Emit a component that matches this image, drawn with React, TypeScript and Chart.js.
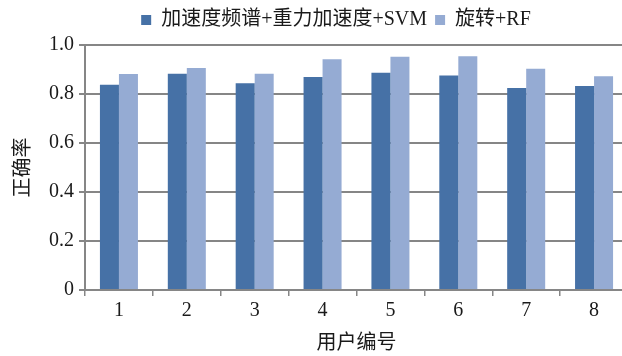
import React, { useEffect, useRef } from 'react';
import { Chart, registerables } from 'chart.js';

Chart.register(...registerables);

const categories = ['1', '2', '3', '4', '5', '6', '7', '8'];
const seriesNames = ['加速度频谱+重力加速度+SVM', '旋转+RF'];
const svmValues = [0.838, 0.883, 0.844, 0.869, 0.887, 0.876, 0.824, 0.833];
const rfValues = [0.882, 0.906, 0.883, 0.942, 0.952, 0.954, 0.903, 0.872];
const yTickLabels = ['0', '0.2', '0.4', '0.6', '0.8', '1.0'];
const xTitle = '用户编号';
const yTitle = '正确率';

const FONT = '"Liberation Serif", "Noto Sans CJK SC", serif';
const GRID = '#868686';
const LEGEND_SHIFT_X = 22;
const LEGEND_SHIFT_Y = -5;

const legendShift = {
  id: 'legendShift',
  afterLayout(chart: any) {
    const l = chart.legend;
    if (l) {
      l.left += LEGEND_SHIFT_X;
      l.right += LEGEND_SHIFT_X;
      l.top += LEGEND_SHIFT_Y;
      l.bottom += LEGEND_SHIFT_Y;
    }
  },
};

export default function App() {
  const ref = useRef<HTMLCanvasElement | null>(null);

  useEffect(() => {
    if (!ref.current) return;
    const chart = new Chart(ref.current, {
      type: 'bar',
      data: {
        labels: categories,
        datasets: [
          {
            label: seriesNames[0],
            data: svmValues,
            backgroundColor: '#4671a6',
            borderWidth: 0,
            categoryPercentage: 0.56,
            barPercentage: 1,
          },
          {
            label: seriesNames[1],
            data: rfValues,
            backgroundColor: '#95abd3',
            borderWidth: 0,
            categoryPercentage: 0.56,
            barPercentage: 1,
          },
        ],
      },
      options: {
        responsive: false,
        animation: false,
        layout: { padding: { left: 0, right: 12, top: 7, bottom: 0 } },
        font: { family: FONT, size: 20 },
        color: '#1a1a1a',
        plugins: {
          tooltip: { enabled: false },
          legend: {
            position: 'top',
            align: 'center',
            labels: {
              boxWidth: 10,
              boxHeight: 10,
              padding: 8,
              color: '#1a1a1a',
              font: { family: FONT, size: 20 },
            },
          },
        },
        scales: {
          x: {
            offset: true,
            grid: {
              display: true,
              offset: true,
              drawOnChartArea: false,
              drawTicks: true,
              tickLength: 6,
              color: GRID,
              lineWidth: 1.5,
            },
            border: { display: true, color: GRID, width: 2 },
            ticks: {
              color: '#1a1a1a',
              padding: 3,
              maxRotation: 0,
              font: { family: FONT, size: 20 },
            },
            title: {
              display: true,
              text: xTitle,
              color: '#1a1a1a',
              font: { family: FONT, size: 20 },
              padding: { top: 6, bottom: 0 },
            },
          },
          y: {
            min: 0,
            max: 1,
            afterFit(scale: any) {
              scale.width = 85;
            },
            grid: {
              color: GRID,
              lineWidth: 2,
              drawTicks: true,
              tickLength: 6,
            },
            border: { display: true, color: GRID, width: 2 },
            ticks: {
              stepSize: 0.1,
              padding: 5,
              color: '#1a1a1a',
              font: { family: FONT, size: 20 },
              callback: (v: any) => {
                const idx = Math.round(Number(v) * 10);
                return idx % 2 === 0 ? yTickLabels[idx / 2] : '';
              },
            },
            title: {
              display: true,
              text: yTitle,
              color: '#1a1a1a',
              font: { family: FONT, size: 20 },
              padding: { top: 12, bottom: 0 },
            },
          },
        },
      },
      plugins: [legendShift],
    } as any);
    return () => chart.destroy();
  }, []);

  return (
    <div
      style={{
        position: 'absolute',
        left: 0,
        top: 0,
        width: 622,
        height: 356,
        overflow: 'hidden',
        background: '#fff',
      }}
    >
      <canvas ref={ref} width={640} height={356} style={{ display: 'block', width: 640, height: 356 }} />
    </div>
  );
}
